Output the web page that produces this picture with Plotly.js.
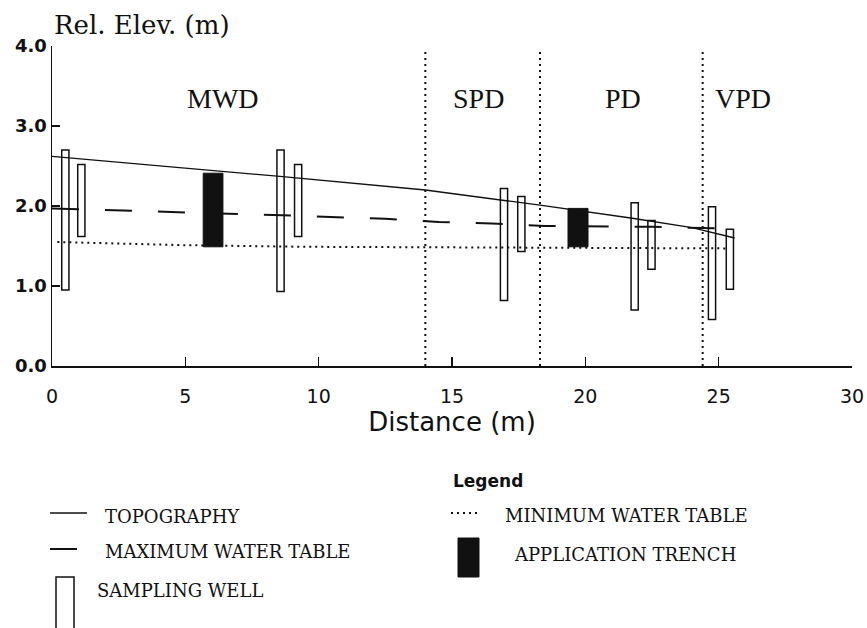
<!DOCTYPE html>
<html>
<head>
<meta charset="utf-8">
<script src="https://cdn.plot.ly/plotly-3.0.1.min.js"></script>
<style>html,body{margin:0;padding:0;background:#fff;}#chart{width:867px;height:628px;}</style>
</head>
<body>
<div id="chart"></div>
<script>
// ---- data ----
var topoX = [0, 8.55, 14, 18.3, 21.7, 24, 25.6];
var topoY = [2.62, 2.37, 2.20, 2.01, 1.85, 1.73, 1.60];

var maxWtX = [0, 6.5, 9, 12.5, 14.5, 16.5, 18.5, 22.5, 25.0];
var maxWtY = [1.97, 1.91, 1.88, 1.84, 1.80, 1.78, 1.75, 1.74, 1.72];

var minWtX = [0.2, 5, 9.5, 18, 25.3];
var minWtY = [1.55, 1.51, 1.49, 1.48, 1.47];

var wellX      = [0.5, 1.1, 8.57, 9.23, 16.95, 17.6, 21.85, 22.48, 24.75, 25.42];
var wellTop    = [2.70, 2.52, 2.70, 2.52, 2.22, 2.12, 2.04, 1.82, 1.99, 1.71];
var wellBottom = [0.95, 1.62, 0.93, 1.62, 0.82, 1.43, 0.70, 1.21, 0.58, 0.96];

var trenchStart  = [5.67, 19.35];
var trenchEnd    = [6.41, 20.10];
var trenchTop    = [2.41, 1.97];
var trenchBottom = [1.49, 1.49];

var zoneBounds = [14.0, 18.3, 24.4];
var zoneNames  = ['MWD', 'SPD', 'PD', 'VPD'];
var zoneLabelX = [6.4, 16.0, 21.4, 25.9];

var xTicks = [0, 5, 10, 15, 20, 25, 30];
var yTicks = [0, 1, 2, 3, 4];
var yTickText = ['0.0', '1.0', '2.0', '3.0', '4.0'];

var legendItems = ['TOPOGRAPHY', 'MAXIMUM WATER TABLE', 'SAMPLING WELL', 'MINIMUM WATER TABLE', 'APPLICATION TRENCH'];

// ---- layout helpers ----
var L = 52, R = 852, T = 46, B = 366;
function px(x) { return (x - L) / (R - L); }
function py(y) { return (B - y) / (B - T); }
var INK = '#111';
var WELL_W = 0.27;

var traces = [
  {x: topoX, y: topoY, mode: 'lines', line: {color: INK, width: 1.3}, hoverinfo: 'skip'},
  {x: maxWtX, y: maxWtY, mode: 'lines', line: {color: INK, width: 2, dash: '27px,26px'}, hoverinfo: 'skip'},
  {x: minWtX, y: minWtY, mode: 'lines', line: {color: INK, width: 2, dash: '2px,4px'}, hoverinfo: 'skip'},
  {type: 'bar', x: wellX, base: wellBottom,
   y: wellTop.map(function (t, i) { return t - wellBottom[i]; }),
   width: wellX.map(function () { return WELL_W; }),
   marker: {color: 'rgba(0,0,0,0)', line: {color: INK, width: 1.5}}, hoverinfo: 'skip'},
  {type: 'bar', x: trenchStart.map(function (s, i) { return (s + trenchEnd[i]) / 2; }),
   base: trenchBottom,
   y: trenchTop.map(function (t, i) { return t - trenchBottom[i]; }),
   width: trenchStart.map(function (s, i) { return trenchEnd[i] - s; }),
   marker: {color: INK, line: {color: INK, width: 1}}, hoverinfo: 'skip'},
  // empty trace that carries the tick-only overlay x axis
  {x: [], y: [], xaxis: 'x2', yaxis: 'y', mode: 'lines', hoverinfo: 'skip'}
];

var shapes = zoneBounds.map(function (b) {
  return {type: 'line', xref: 'x', yref: 'y', x0: b, x1: b, y0: 0, y1: 3.93,
          line: {color: INK, width: 2, dash: '2px,4px'}};
});
// legend samples
shapes.push({type: 'line', xref: 'paper', yref: 'paper', x0: px(50), x1: px(87), y0: py(513), y1: py(513), line: {color: INK, width: 1.3}});
shapes.push({type: 'line', xref: 'paper', yref: 'paper', x0: px(50), x1: px(77), y0: py(549), y1: py(549), line: {color: INK, width: 2}});
shapes.push({type: 'path', xref: 'paper', yref: 'paper',
  path: 'M' + px(56) + ',' + py(640) + ' L' + px(56) + ',' + py(577) + ' L' + px(74) + ',' + py(577) + ' L' + px(74) + ',' + py(640),
  line: {color: INK, width: 1.5}});
shapes.push({type: 'line', xref: 'paper', yref: 'paper', x0: px(451), x1: px(481), y0: py(513), y1: py(513), line: {color: INK, width: 2, dash: '2px,4px'}});
shapes.push({type: 'rect', xref: 'paper', yref: 'paper', x0: px(458), x1: px(479), y0: py(577), y1: py(538), fillcolor: INK, line: {color: INK, width: 1}});

var annotations = zoneNames.map(function (n, i) {
  return {xref: 'x', yref: 'y', x: zoneLabelX[i], y: 3.35, text: n, showarrow: false,
          xanchor: 'center', yanchor: 'middle',
          font: {family: 'Liberation Serif', size: 28, color: INK}};
});
annotations.push({xref: 'paper', yref: 'paper', x: 0, y: py(25), text: 'Rel. Elev. (m)', showarrow: false,
  xanchor: 'left', yanchor: 'middle', font: {family: 'DejaVu Serif', size: 26, color: INK}});
annotations.push({xref: 'paper', yref: 'paper', x: px(451), y: py(481), text: 'Legend', showarrow: false,
  xanchor: 'left', yanchor: 'middle', font: {family: 'DejaVu Sans', size: 17, color: INK, weight: 'bold'}});
var legPos = [[103, 516], [103, 551], [95, 590], [503, 515], [512, 554]];
legendItems.forEach(function (t, i) {
  annotations.push({xref: 'paper', yref: 'paper', x: px(legPos[i][0]), y: py(legPos[i][1]), text: t, showarrow: false,
    xanchor: 'left', yanchor: 'middle', font: {family: 'DejaVu Serif', size: 18, color: INK}});
});

var layout = {
  width: 867, height: 628,
  margin: {l: L, r: 867 - R, t: T, b: 628 - B, pad: 0},
  paper_bgcolor: '#fff', plot_bgcolor: '#fff',
  showlegend: false, barmode: 'overlay',
  xaxis: {range: [0, 30], tickvals: xTicks, ticks: '', ticklabelstandoff: 12,
          showline: true, linecolor: INK, linewidth: 2.2, showgrid: false, zeroline: false,
          tickfont: {family: 'DejaVu Sans', size: 19, color: INK},
          title: {text: 'Distance (m)', font: {family: 'DejaVu Sans', size: 26, color: INK}, standoff: 6}},
  xaxis2: {overlaying: 'x', anchor: 'y', side: 'bottom', range: [0, 30], tickvals: xTicks,
           ticks: 'inside', ticklen: 9, tickwidth: 1.5, tickcolor: INK, showticklabels: false,
           showline: false, showgrid: false, zeroline: false},
  yaxis: {range: [0, 4], tickvals: yTicks, ticktext: yTickText, ticks: 'inside', ticklen: 8, tickwidth: 1.5, tickcolor: INK,
          showline: true, linecolor: INK, linewidth: 1.5, showgrid: false, zeroline: false,
          tickfont: {family: 'DejaVu Sans', size: 18, color: INK, weight: 'bold'}},
  shapes: shapes,
  annotations: annotations
};

Plotly.newPlot('chart', traces, layout, {staticPlot: true, displayModeBar: false});
</script>
</body>
</html>
